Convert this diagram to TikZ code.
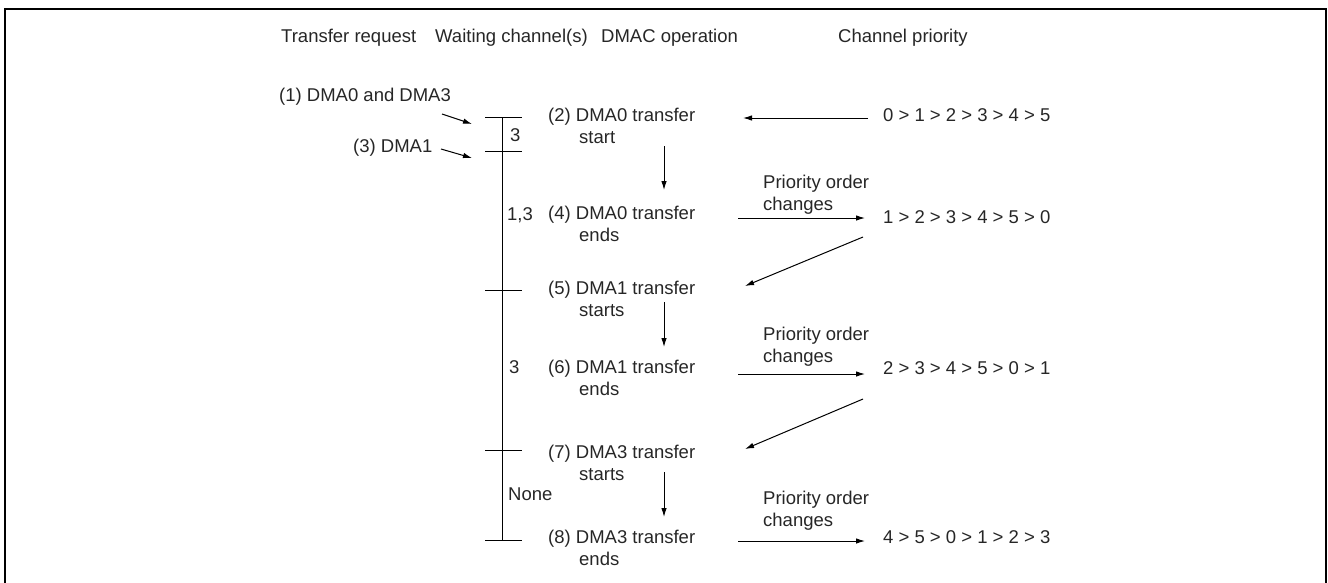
\documentclass[tikz,border=0pt]{standalone}
\usepackage{fontspec}
\setmainfont{Liberation Sans}
\usetikzlibrary{arrows.meta}
\begin{document}
\begin{tikzpicture}[x=1pt,y=-1pt,
  txt/.style={anchor=base west,inner sep=0pt,font=\fontsize{18.5}{22}\selectfont,text=black!85},
  arr/.style={line width=1pt,-{Latex[length=9pt,width=5.5pt]}},
  tick/.style={line width=1pt},
  tline/.style={line width=1.8pt},
  frame/.style={line width=2pt}]
\useasboundingbox (0,0) rectangle (1328,582);
\draw[frame] (5,590) -- (5,9) -- (1326,9) -- (1326,590);
% headers
\node[txt] (h1) at (281,42.5) {Transfer request};
\node[txt] (h2) at (435,42.5) {Waiting channel(s)};
\node[txt] (h3) at (601,42.5) {DMAC operation};
\node[txt] (h4) at (838,42.5) {Channel priority};
% requests
\node[txt] (r1) at (279,101.5) {(1) DMA0 and DMA3};
\node[txt] (r3) at (353,152.5) {(3) DMA1};
% timeline
\coordinate (t0) at (502.5,117);
\coordinate (t1) at (502.5,151);
\coordinate (t5) at (502.5,290);
\coordinate (t7) at (502.5,450);
\coordinate (t8) at (502.5,540);
\draw[tline] (t0) -- (t8);
\foreach \t in {t0,t1,t5,t7,t8} \draw[tick] ([xshift=-17.5pt]\t) -- ([xshift=19.5pt]\t);
\coordinate (a1s) at (442,114); \coordinate (a1e) at (472,124);
\coordinate (a3s) at (441,149); \coordinate (a3e) at (472,158);
\draw[arr] (a1s) -- (a1e);
\draw[arr] (a3s) -- (a3e);
% waiting channels
\node[txt] (w1) at (510,141.5) {3};
\node[txt] (w2) at (507,220.5) {1,3};
\node[txt] (w3) at (509,373.5) {3};
\node[txt] (w4) at (508,500.5) {None};
% DMAC operations
\node[txt] (o2) at (548,121.5) {(2) DMA0 transfer};
\node[txt] (o2b) at (579,143.5) {start};
\node[txt] (o4) at (548,219.5) {(4) DMA0 transfer};
\node[txt] (o4b) at (579,241.5) {ends};
\node[txt] (o5) at (548,294.5) {(5) DMA1 transfer};
\node[txt] (o5b) at (579,316.5) {starts};
\node[txt] (o6) at (548,373.5) {(6) DMA1 transfer};
\node[txt] (o6b) at (579,395.5) {ends};
\node[txt] (o7) at (548,458.5) {(7) DMA3 transfer};
\node[txt] (o7b) at (579,480.5) {starts};
\node[txt] (o8) at (548,543.5) {(8) DMA3 transfer};
\node[txt] (o8b) at (579,565.5) {ends};
\coordinate (v1s) at (664,146); \coordinate (v1e) at (664,190);
\coordinate (v2s) at (664,302); \coordinate (v2e) at (664,347);
\coordinate (v3s) at (664,472); \coordinate (v3e) at (664,517);
\draw[arr] (v1s) -- (v1e);
\draw[arr] (v2s) -- (v2e);
\draw[arr] (v3s) -- (v3e);
% priorities
\node[txt] (p0) at (883,121.5) {0 > 1 > 2 > 3 > 4 > 5};
\node[txt] (p1) at (883,223.5) {1 > 2 > 3 > 4 > 5 > 0};
\node[txt] (p2) at (883,374.5) {2 > 3 > 4 > 5 > 0 > 1};
\node[txt] (p3) at (883,543.5) {4 > 5 > 0 > 1 > 2 > 3};
\node[txt] (c1) at (763,188) {Priority order};
\node[txt] (c1b) at (763,210) {changes};
\node[txt] (c2) at (763,340.5) {Priority order};
\node[txt] (c2b) at (763,362.5) {changes};
\node[txt] (c3) at (763,504.5) {Priority order};
\node[txt] (c3b) at (763,526.5) {changes};
\coordinate (l0s) at (868,118); \coordinate (l0e) at (743,118);
\draw[arr] (l0s) -- (l0e);
\coordinate (r1s) at (738,218); \coordinate (r1e) at (865,218);
\coordinate (r2s) at (738,374); \coordinate (r2e) at (865,374);
\coordinate (r3s) at (738,541); \coordinate (r3e) at (865,541);
\draw[arr] (r1s) -- (r1e);
\draw[arr] (r2s) -- (r2e);
\draw[arr] (r3s) -- (r3e);
\coordinate (d1s) at (863,237); \coordinate (d1e) at (745,286);
\coordinate (d2s) at (863,399); \coordinate (d2e) at (745,449);
\draw[arr] (d1s) -- (d1e);
\draw[arr] (d2s) -- (d2e);
\end{tikzpicture}
\end{document}
